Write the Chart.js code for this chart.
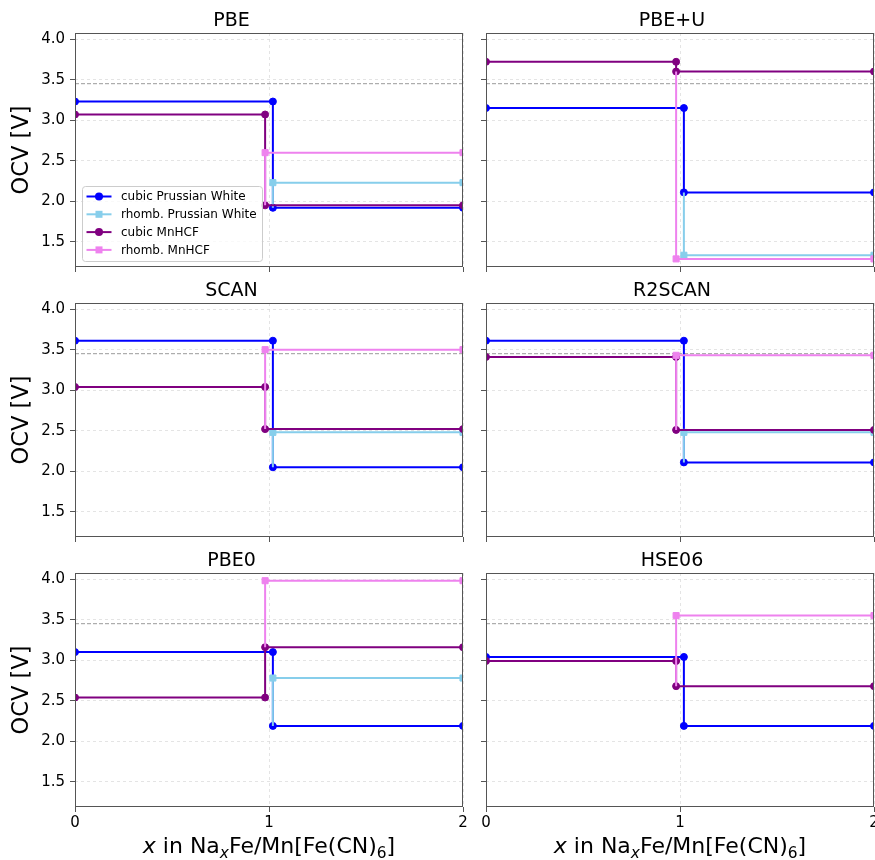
<!DOCTYPE html>
<html>
<head>
<meta charset="utf-8">
<script src="https://cdn.jsdelivr.net/npm/chart.js@4.4.1/dist/chart.umd.min.js"></script>
<style>
html, body { margin: 0; padding: 0; background: #ffffff; }
#wrap { position: relative; width: 875px; height: 860px; overflow: hidden; background: #ffffff; }
#wrap canvas { position: absolute; }
</style>
</head>
<body>
<div id="wrap"></div>
<script>
// ---------------- data ----------------
const panelTitles = ['PBE', 'PBE+U', 'SCAN', 'R2SCAN', 'PBE0', 'HSE06'];
const seriesNames = ['cubic Prussian White', 'rhomb. Prussian White', 'cubic MnHCF', 'rhomb. MnHCF'];
// OCV plateaus [V] for each panel (order of panelTitles)
const cubicPW_first  = [3.23, 3.15, 3.61, 3.61, 3.10, 3.04];
const cubicPW_second = [1.92, 2.11, 2.05, 2.11, 2.19, 2.19];
const rhombPW        = [2.23, 1.335, 2.48, 2.48, 2.78, null];
const cubicMn_first  = [3.07, 3.72, 3.04, 3.41, 2.54, 2.99];
const cubicMn_second = [1.95, 3.60, 2.52, 2.51, 3.16, 2.68];
const rhombMn        = [2.60, 1.29, 3.50, 3.43, 3.98, 3.55];
const xStepPW = 1.02;
const xStepMn = 0.98;
const xStart = 0;
const xEnd = 2;
const refOCV = 3.45;
const xTicks = [0, 1, 2];
const yTicks = [1.5, 2.0, 2.5, 3.0, 3.5, 4.0];
const yLimits = [1.19, 4.075];
const yAxisTitle = 'OCV [V]';
const xAxisTitleParts = [
  { t: 'x', italic: true },
  { t: ' in Na' },
  { t: 'x', italic: true, sub: true },
  { t: 'Fe/Mn[Fe(CN)' },
  { t: '6', sub: true },
  { t: ']' }
];

// ---------------- styles ----------------
const FONT = "'DejaVu Sans', 'Liberation Sans', sans-serif";
const colors = ['#0000ff', '#87ceeb', '#800080', '#ee82ee'];
const markers = ['circle', 'rect', 'circle', 'rect'];
Chart.defaults.font.family = FONT;
Chart.defaults.color = '#000000';

const colLeft = [0, 470], colWidth = [470, 405];
const colYAxisWidth = [75, 16], colPadRight = [7, 1];
const rowTop = [0, 270, 540], rowHeight = [285, 285, 320];
const rowXAxisHeight = [18, 18, 53];

function cubicSeries(label, xs, a, b, color, order) {
  return {
    label: label,
    data: [{x: xStart, y: a}, {x: xs, y: a}, {x: xs, y: b}, {x: xEnd, y: b}],
    borderColor: color, backgroundColor: color,
    borderWidth: 2, pointStyle: 'circle', pointRadius: 3.5,
    pointBorderWidth: 1, pointBorderColor: color, pointBackgroundColor: color,
    tension: 0, fill: false, order: order
  };
}
function rhombSeries(label, xs, from, r, color, order) {
  return {
    label: label,
    data: [{x: xs, y: from}, {x: xs, y: r}, {x: xEnd, y: r}],
    borderColor: color, backgroundColor: color,
    borderWidth: 2, pointStyle: 'rect', pointRadius: [0, 4.3, 4.3],
    pointBorderWidth: 1, pointBorderColor: color, pointBackgroundColor: color,
    tension: 0, fill: false, order: order
  };
}

const framePlugin = {
  id: 'frame',
  afterDatasetsDraw(chart) {
    const a = chart.chartArea, ctx = chart.ctx;
    ctx.save();
    ctx.strokeStyle = '#555555';
    ctx.lineWidth = 1;
    ctx.strokeRect(Math.round(a.left) + 0.5, Math.round(a.top) + 0.5,
                   Math.round(a.right - a.left) - 1, Math.round(a.bottom - a.top) - 1);
    ctx.restore();
  }
};

const legendPlugin = {
  id: 'innerLegend',
  afterDraw(chart) {
    if (!chart.options.plugins.innerLegend || !chart.options.plugins.innerLegend.show) return;
    const ctx = chart.ctx, a = chart.chartArea;
    const bx = a.left + 7, by = a.bottom - 81, bw = 180, bh = 75;
    ctx.save();
    ctx.beginPath();
    if (ctx.roundRect) ctx.roundRect(bx + 0.5, by + 0.5, bw, bh, 3); else ctx.rect(bx + 0.5, by + 0.5, bw, bh);
    ctx.fillStyle = 'rgba(255,255,255,0.8)';
    ctx.fill();
    ctx.strokeStyle = '#cccccc';
    ctx.lineWidth = 1;
    ctx.stroke();
    ctx.font = '12px ' + FONT;
    ctx.textBaseline = 'middle';
    ctx.textAlign = 'left';
    for (let k = 0; k < seriesNames.length; k++) {
      const y = by + 10.5 + k * 17.8;
      const x0 = bx + 4.5, x1 = bx + 29.5, xm = (x0 + x1) / 2;
      ctx.strokeStyle = colors[k];
      ctx.lineWidth = 2;
      ctx.beginPath(); ctx.moveTo(x0, y); ctx.lineTo(x1, y); ctx.stroke();
      ctx.fillStyle = colors[k];
      if (markers[k] === 'circle') {
        ctx.beginPath(); ctx.arc(xm, y, 4, 0, Math.PI * 2); ctx.fill();
      } else {
        ctx.fillRect(xm - 3.5, y - 3.5, 7, 7);
      }
      ctx.fillStyle = '#000000';
      ctx.fillText(seriesNames[k], bx + 39, y + 0.5);
    }
    ctx.restore();
  }
};

const xTitlePlugin = {
  id: 'richXTitle',
  afterDraw(chart) {
    if (!chart.options.plugins.richXTitle || !chart.options.plugins.richXTitle.show) return;
    const ctx = chart.ctx, a = chart.chartArea;
    const size = 22, subSize = 15.4, subShift = 4.5;
    const fontOf = p => (p.italic ? 'oblique ' : '') + (p.sub ? subSize : size) + 'px ' + FONT;
    ctx.save();
    let total = 0;
    const widths = xAxisTitleParts.map(p => { ctx.font = fontOf(p); const w = ctx.measureText(p.t).width; total += w; return w; });
    let x = (a.left + a.right) / 2 - total / 2;
    const baseY = a.bottom + 46;
    ctx.textBaseline = 'alphabetic';
    ctx.textAlign = 'left';
    ctx.fillStyle = '#000000';
    xAxisTitleParts.forEach((p, k) => {
      ctx.font = fontOf(p);
      ctx.fillText(p.t, x, baseY + (p.sub ? subShift : 0));
      x += widths[k];
    });
    ctx.restore();
  }
};

const wrap = document.getElementById('wrap');
panelTitles.forEach((title, i) => {
  const col = i % 2, row = Math.floor(i / 2);
  const cv = document.createElement('canvas');
  cv.width = colWidth[col]; cv.height = rowHeight[row];
  cv.style.left = colLeft[col] + 'px'; cv.style.top = rowTop[row] + 'px';
  cv.style.width = colWidth[col] + 'px'; cv.style.height = rowHeight[row] + 'px';
  wrap.appendChild(cv);

  const datasets = [];
  datasets.push({
    label: '_ref', data: [{x: xStart, y: refOCV}, {x: xEnd, y: refOCV}],
    borderColor: '#9a9a9a', borderWidth: 1, borderDash: [4, 2], pointRadius: 0, fill: false, order: 10
  });
  datasets.push(cubicSeries(seriesNames[0], xStepPW, cubicPW_first[i], cubicPW_second[i], colors[0], 4));
  if (rhombPW[i] !== null) datasets.push(rhombSeries(seriesNames[1], xStepPW, cubicPW_second[i], rhombPW[i], colors[1], 3));
  datasets.push(cubicSeries(seriesNames[2], xStepMn, cubicMn_first[i], cubicMn_second[i], colors[2], 2));
  if (rhombMn[i] !== null) datasets.push(rhombSeries(seriesNames[3], xStepMn, cubicMn_second[i], rhombMn[i], colors[3], 1));

  new Chart(cv, {
    type: 'line',
    data: { datasets: datasets },
    options: {
      responsive: false, animation: false, devicePixelRatio: 1, events: [],
      layout: { autoPadding: false, padding: { left: 0, right: colPadRight[col], top: 0, bottom: 0 } },
      plugins: {
        legend: { display: false },
        tooltip: { enabled: false },
        title: { display: true, text: title, color: '#000000', font: { size: 19, weight: 'normal' }, padding: { top: 10, bottom: 0.2 } },
        innerLegend: { show: i === 0 },
        richXTitle: { show: row === 2 }
      },
      scales: {
        x: {
          type: 'linear', min: xStart, max: xEnd,
          afterBuildTicks: s => { s.ticks = xTicks.map(v => ({ value: v })); },
          afterFit: s => { s.height = rowXAxisHeight[row]; s.paddingLeft = 0; s.paddingRight = 0; },
          ticks: { display: row === 2, font: { size: 15 }, color: '#000000', padding: 2, maxRotation: 0, callback: v => String(v) },
          grid: { color: '#dddddd', lineWidth: 0.8, drawTicks: true, tickLength: 5, tickColor: '#555555', tickWidth: 1, tickBorderDash: [] },
          border: { display: false, dash: [3, 3] }
        },
        y: {
          type: 'linear', min: yLimits[0], max: yLimits[1],
          afterBuildTicks: s => { s.ticks = yTicks.map(v => ({ value: v })); },
          afterFit: s => { s.width = colYAxisWidth[col]; s.paddingTop = 0; s.paddingBottom = 0; },
          ticks: { display: col === 0, font: { size: 15 }, color: '#000000', padding: 5, callback: v => Number(v).toFixed(1) },
          grid: { color: '#dddddd', lineWidth: 0.8, drawTicks: true, tickLength: 5, tickColor: '#555555', tickWidth: 1, tickBorderDash: [] },
          border: { display: false, dash: [3, 3] },
          title: { display: col === 0, text: yAxisTitle, color: '#000000', font: { size: 22.5 }, padding: { top: 9, bottom: 0 } }
        }
      }
    },
    plugins: [framePlugin, legendPlugin, xTitlePlugin]
  });
});
</script>
</body>
</html>
